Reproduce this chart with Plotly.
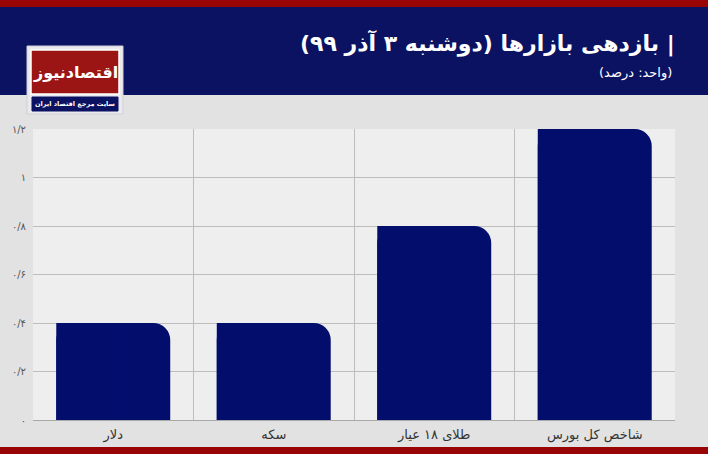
import plotly.graph_objects as go

categories = ["دلار", "سکه", "طلای ۱۸ عیار", "شاخص کل بورس"]
values = [0.4, 0.4, 0.8, 1.2]
ytick_vals = [0, 0.2, 0.4, 0.6, 0.8, 1.0, 1.2]
ytick_text = ["۰", "۰/۲", "۰/۴", "۰/۶", "۰/۸", "۱", "۱/۲"]
title_text = "| بازدهی بازارها (دوشنبه ۳ آذر ۹۹)"
subtitle_text = "(واحد: درصد)"
logo_text = "اقتصادنیوز"
logo_sub = "سایت مرجع اقتصاد ایران"

RLM = "\u200f"
W, H = 708, 454
L, R, T, B = 33, 33, 129, 34
PW, PH = W - L - R, H - T - B

def px(x):
    return (x - L) / PW

def py(y):
    return (H - B - y) / PH

BAR = "#030d6c"
NAVY = "#0b1262"
RED = "#990404"
FONT = "DejaVu Sans"

labels = [RLM + c + RLM for c in categories]

fig = go.Figure()
fig.add_trace(go.Bar(x=labels, y=values, marker=dict(color=BAR, cornerradius=17, line=dict(width=0)),
                     width=0.71, offset=-0.355, hoverinfo="y"))
fig.add_trace(go.Bar(x=labels, y=values, marker=dict(color=BAR, line=dict(width=0)),
                     width=0.4, offset=-0.355, hoverinfo="skip"))

shapes = [
    dict(type="rect", xref="paper", yref="paper", x0=px(0), x1=px(W), y0=py(0), y1=py(7),
         fillcolor=RED, line_width=0, layer="below"),
    dict(type="rect", xref="paper", yref="paper", x0=px(0), x1=px(W), y0=py(7), y1=py(95),
         fillcolor=NAVY, line_width=0, layer="below"),
    dict(type="rect", xref="paper", yref="paper", x0=px(0), x1=px(W), y0=py(447), y1=py(454),
         fillcolor=RED, line_width=0, layer="below"),
    # logo frame
    dict(type="rect", xref="paper", yref="paper", x0=px(27), x1=px(123), y0=py(46), y1=py(114),
         fillcolor="#e9e9ee", line=dict(color="#cfcfd6", width=1), layer="above"),
    dict(type="rect", xref="paper", yref="paper", x0=px(31), x1=px(119), y0=py(50), y1=py(94),
         fillcolor="#9b1515", line=dict(color="#ffffff", width=1.5), layer="above"),
    dict(type="rect", xref="paper", yref="paper", x0=px(32), x1=px(118), y0=py(97), y1=py(111),
         fillcolor="#0b1262", line=dict(color="#0b1262", width=1), layer="above"),
]

annotations = [
    dict(text="<b>" + RLM + title_text + RLM + "</b>", x=px(677), y=py(43), xref="paper", yref="paper",
         xanchor="right", yanchor="middle", showarrow=False,
         font=dict(family=FONT, size=22, color="white")),
    dict(text=RLM + subtitle_text + RLM, x=px(674), y=py(73), xref="paper", yref="paper",
         xanchor="right", yanchor="middle", showarrow=False,
         font=dict(family=FONT, size=13, color="white")),
    dict(text="<b>" + logo_text + "</b>", x=px(75), y=py(72), xref="paper", yref="paper",
         xanchor="center", yanchor="middle", showarrow=False,
         font=dict(family=FONT, size=16, color="white")),
    dict(text="<b>" + logo_sub + "</b>", x=px(75), y=py(104), xref="paper", yref="paper",
         xanchor="center", yanchor="middle", showarrow=False,
         font=dict(family=FONT, size=6.5, color="white")),
]

fig.update_layout(
    width=W, height=H,
    margin=dict(l=L, r=R, t=T, b=B, pad=0),
    paper_bgcolor="#e2e2e2",
    plot_bgcolor="#eeeeee",
    barmode="overlay",
    showlegend=False,
    shapes=shapes,
    annotations=annotations,
    font=dict(family=FONT),
    xaxis=dict(
        type="category", tickson="boundaries", showgrid=True, gridcolor="#bdbdbd", gridwidth=1,
        showline=True, linecolor="#a8a8a8", linewidth=1, ticks="", range=[-0.5, 3.5],
        tickfont=dict(family=FONT, size=13, color="#333333"), ticklabelstandoff=2,
    ),
    yaxis=dict(
        range=[0, 1.2], tickvals=ytick_vals, ticktext=ytick_text, showgrid=True,
        gridcolor="#bdbdbd", gridwidth=1, zeroline=False, showline=False,
        ticks="", ticklabelstandoff=6,
        tickfont=dict(family=FONT, size=10, color="#555555"),
    ),
)

fig.write_html("out.html", config={"displayModeBar": False},
               post_script="document.body.style.margin='0';document.body.style.overflow='hidden';")
